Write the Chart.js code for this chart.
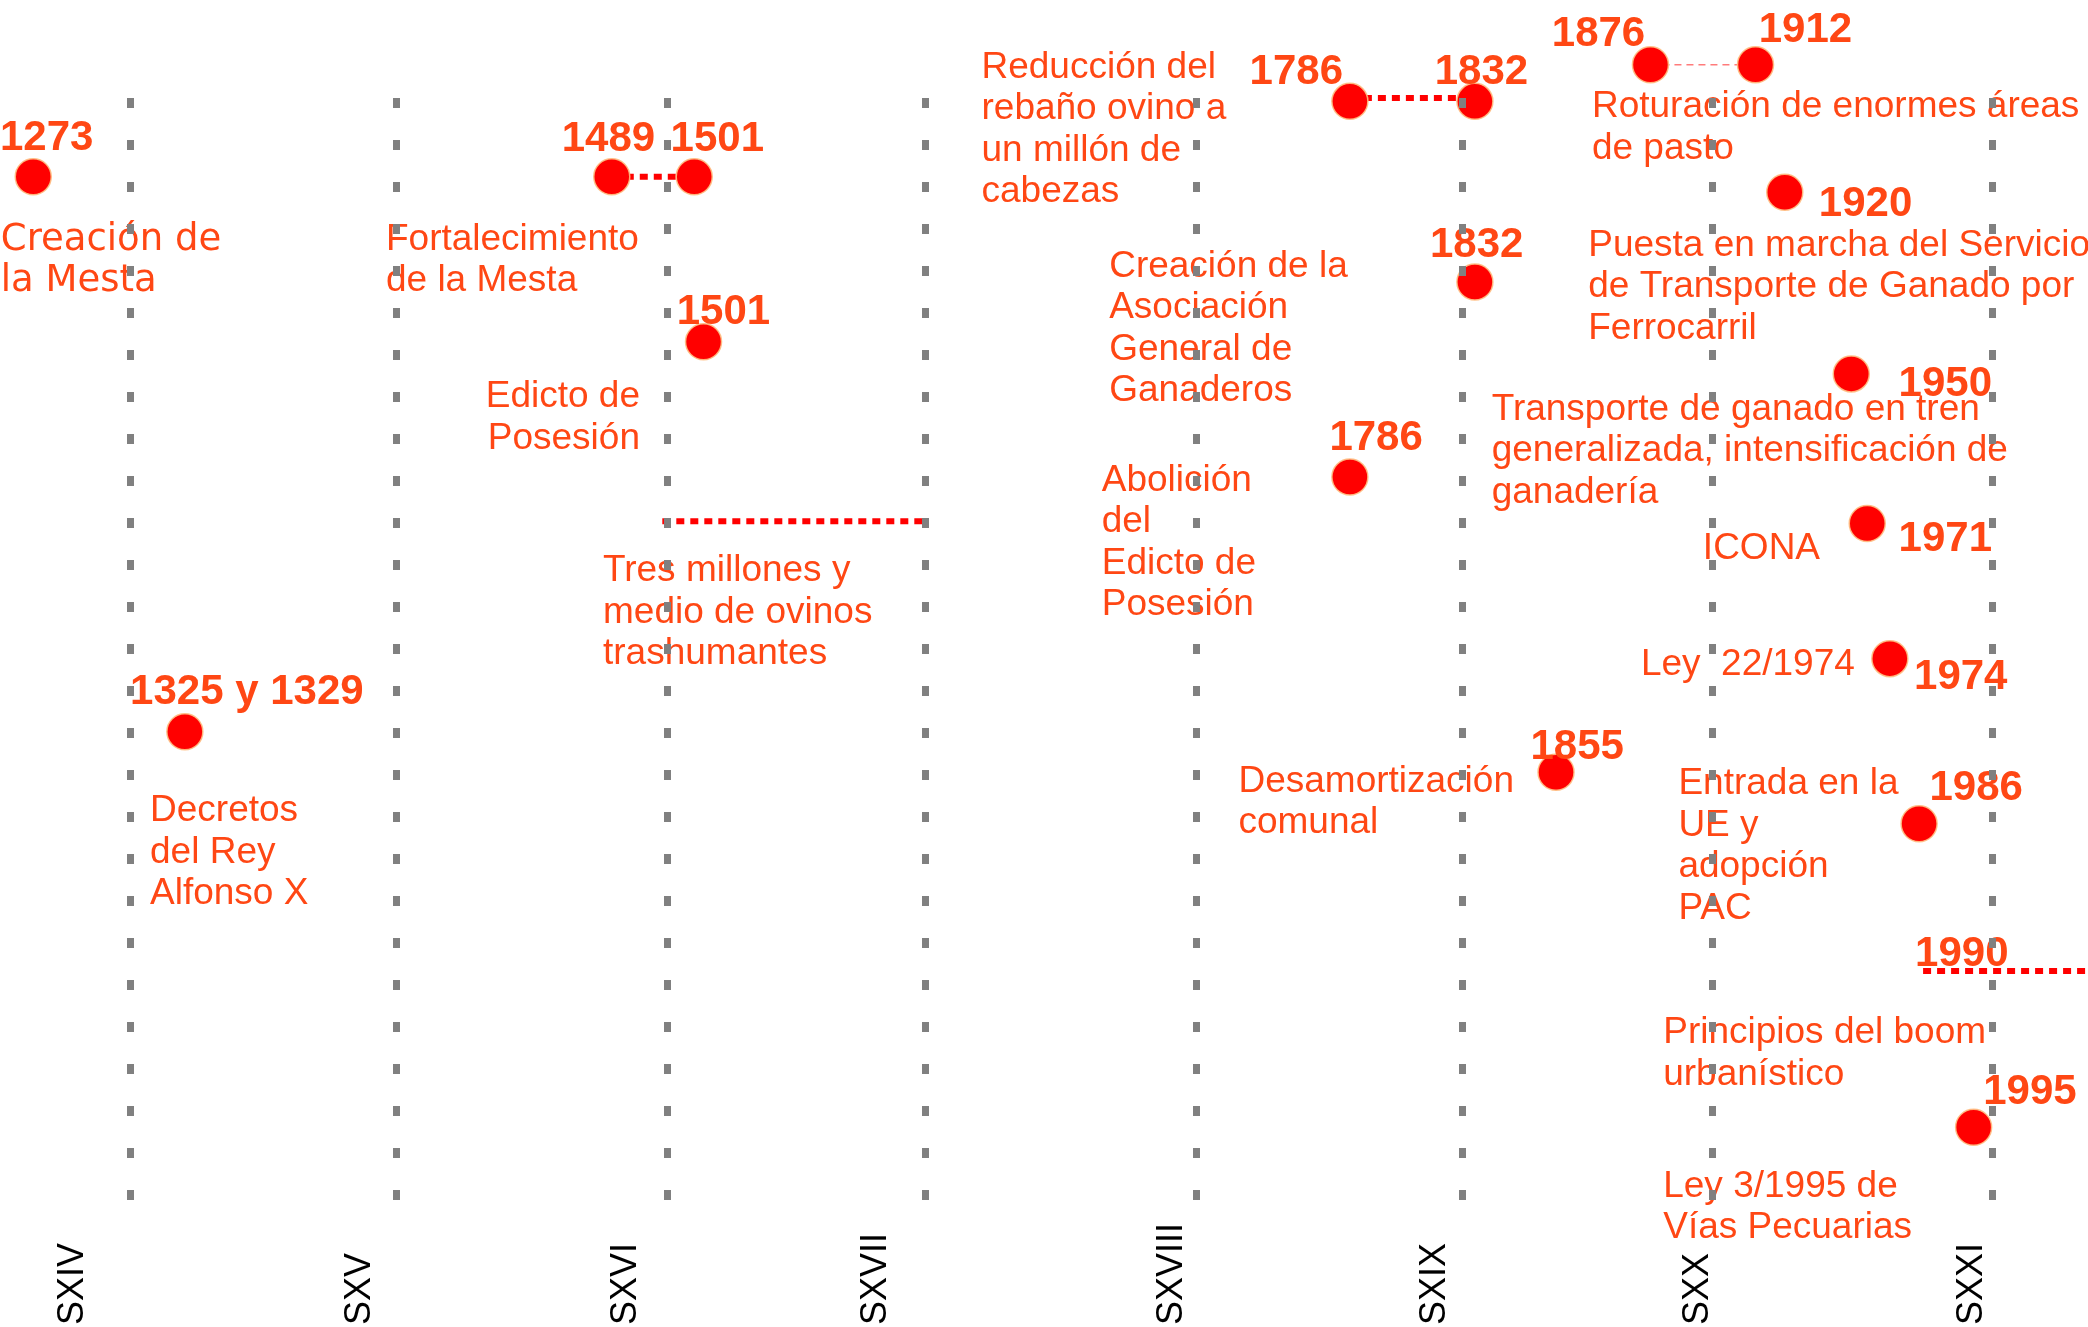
<!DOCTYPE html>
<html>
<head>
<meta charset="utf-8">
<script src="https://cdn.jsdelivr.net/npm/chart.js@4.4.0/dist/chart.umd.min.js"></script>
<style>
  html, body { margin: 0; padding: 0; background: #fff; }
  #wrap { width: 2088px; height: 1327px; }
</style>
</head>
<body>
<div id="wrap"><canvas id="timeline"></canvas></div>
<script>
// Centuries on the time axis
const centuries = ['SXIV', 'SXV', 'SXVI', 'SXVII', 'SXVIII', 'SXIX', 'SXX', 'SXXI'];
const centuryLines = [1300, 1400, 1502, 1599, 1701, 1801, 1895, 2000];
const centuryLabelAt = [1278.5, 1386.5, 1486.5, 1580.5, 1691.5, 1790.5, 1889.5, 1992.5];

// Events (dots): position along the time axis and row (0 = top, 100 = bottom)
const eventX = [1263.5, 1320.5, 1481, 1512, 1515.5, 1758.5, 1805.5, 1805.5, 1758.5, 1836, 1871.5, 1911, 1922, 1947, 1953, 1961.5, 1972.5, 1993];
const eventY = [7.1, 57.2, 7.1, 7.1, 22.0, 0.3, 0.3, 16.6, 34.2, 60.85, -3.0, -3.0, 8.5, 24.9, 38.4, 50.6, 65.5, 92.9];

// Dotted spans between dates
const spanFrom = [1481, 1500, 1758.5, 1871.5, 1974];
const spanTo = [1512, 1599, 1805.5, 1911, 2036];
const spanY = [7.1, 38.2, 0.0, -3.0, 78.8];
const spanThin = [false, false, false, true, false];

// Year tags
const tags = ['1273', '1325 y 1329', '1489', '1501', '1501', '1786', '1832', '1832', '1786', '1855',
  '1876', '1912', '1920', '1950', '1971', '1974', '1986', '1990', '1995'];

// Descriptions
const notes = [
  'Creación de\nla Mesta',
  'Decretos\ndel Rey\nAlfonso X',
  'Fortalecimiento\nde la Mesta',
  'Edicto de\nPosesión',
  'Tres millones y\nmedio de ovinos\ntrashumantes',
  'Reducción del\nrebaño ovino a\nun millón de\ncabezas',
  'Creación de la\nAsociación\nGeneral de\nGanaderos',
  'Abolición\ndel\nEdicto de\nPosesión',
  'Desamortización\ncomunal',
  'Roturación de enormes áreas\nde pasto',
  'Puesta en marcha del Servicio\nde Transporte de Ganado por\nFerrocarril',
  'Transporte de ganado en tren\ngeneralizada, intensificación de\nganadería',
  'ICONA',
  'Ley  22/1974',
  'Entrada en la\nUE y\nadopción\nPAC',
  'Principios del boom\nurbanístico',
  'Ley 3/1995 de\nVías Pecuarias'
];

// where the texts sit (axis units)
const tagAt = [[1251, 3.34], [1299.9, 53.3], [1462.2, 3.4], [1503.1, 3.4], [1505.4, 19.0], [1720.8, -2.62],
  [1790.4, -2.62], [1788.6, 12.95], [1750.8, 30.44], [1826.4, 58.3], [1834.4, -6.05], [1912.2, -6.41],
  [1934.8, 9.28], [1964.8, 25.5], [1964.8, 39.55], [1970.6, 52.0], [1976.4, 62.0], [1971, 76.96], [1996.6, 89.4]];
const noteAt = [[1251.3, 12.53, 'left'], [1307.4, 64.05, 'left'], [1396.1, 12.44, 'left'], [1491.6, 26.68, 'right'],
  [1477.7, 42.4, 'left'], [1620, -3.07, 'left'], [1668, 14.9, 'left'], [1665.2, 34.2, 'left'],
  [1716.6, 61.4, 'left'], [1849.5, 0.48, 'left'], [1848.1, 12.98, 'left'], [1811.8, 27.8, 'left'],
  [1891.2, 40.4, 'left'], [1867.9, 50.8, 'left'], [1882, 61.6, 'left'], [1876.3, 84.1, 'left'], [1876.3, 97.95, 'left']];

const TEXT = '#ff4714';
const SANS = '"Liberation Sans", Arial, sans-serif';

const textPlugin = {
  id: 'timelineText',
  afterDatasetsDraw(chart) {
    const { ctx, scales: { x, y } } = chart;
    const nudge = 3.5; // 'middle' sits a little above the cap centre
    ctx.save();
    ctx.fillStyle = TEXT;
    ctx.textBaseline = 'middle';
    ctx.textAlign = 'left';
    ctx.font = 'bold 42px ' + SANS;
    tags.forEach((t, i) => {
      ctx.fillText(t, x.getPixelForValue(tagAt[i][0]), y.getPixelForValue(tagAt[i][1]) + nudge);
    });
    notes.forEach((n, i) => {
      const [nx, ny, align] = noteAt[i];
      ctx.font = i === 0 ? '37px "DejaVu Sans", sans-serif' : '37px ' + SANS;
      ctx.textAlign = align;
      const px = x.getPixelForValue(nx), py = y.getPixelForValue(ny) + nudge;
      n.split('\n').forEach((line, k) => ctx.fillText(line, px, py + k * 41.5));
    });
    ctx.restore();
  }
};

const spanSets = spanFrom.map((from, i) => ({
  data: [{ x: from, y: spanY[i] }, { x: spanTo[i], y: spanY[i] }],
  showLine: true,
  pointRadius: 0,
  borderColor: spanThin[i] ? 'rgba(255,90,90,0.8)' : '#ff0000',
  borderWidth: spanThin[i] ? 1.5 : 6,
  borderDash: spanThin[i] ? [7, 5] : [8, 6],
  clip: false,
  order: 1
}));

new Chart(document.getElementById('timeline'), {
  type: 'scatter',
  data: {
    datasets: [{
      data: eventX.map((v, i) => ({ x: v, y: eventY[i] })),
      pointRadius: 18,
      pointHoverRadius: 18,
      backgroundColor: '#ff0000',
      borderColor: 'rgba(255,190,130,0.9)',
      borderWidth: 1.5,
      clip: false,
      order: 0
    }, ...spanSets]
  },
  options: {
    responsive: true,
    maintainAspectRatio: false,
    animation: false,
    layout: { autoPadding: false, padding: { top: 66, left: 0, right: 0, bottom: -15 } },
    plugins: { legend: { display: false }, tooltip: { enabled: false } },
    scales: {
      x: {
        type: 'linear', min: 1251, max: 2036,
        afterBuildTicks: scale => { scale.ticks = centuryLines.map(v => ({ value: v })); },
        ticks: { display: false },
        grid: { color: '#808080', lineWidth: 7, drawTicks: false, z: 1 },
        border: { display: false, dash: [10, 32], dashOffset: 10 }
      },
      xLab: {
        type: 'linear', position: 'bottom', min: 1251, max: 2036,
        afterBuildTicks: scale => { scale.ticks = centuryLabelAt.map(v => ({ value: v })); },
        ticks: {
          autoSkip: false, minRotation: 90, maxRotation: 90, padding: 17,
          color: '#000', font: { size: 36, family: SANS },
          callback: (v, i) => centuries[i].padEnd(6, ' ')
        },
        grid: { display: false, drawTicks: false },
        border: { display: false }
      },
      y: { type: 'linear', display: false, reverse: true, min: -2.89, max: 100 }
    }
  },
  plugins: [textPlugin]
});
</script>
</body>
</html>
